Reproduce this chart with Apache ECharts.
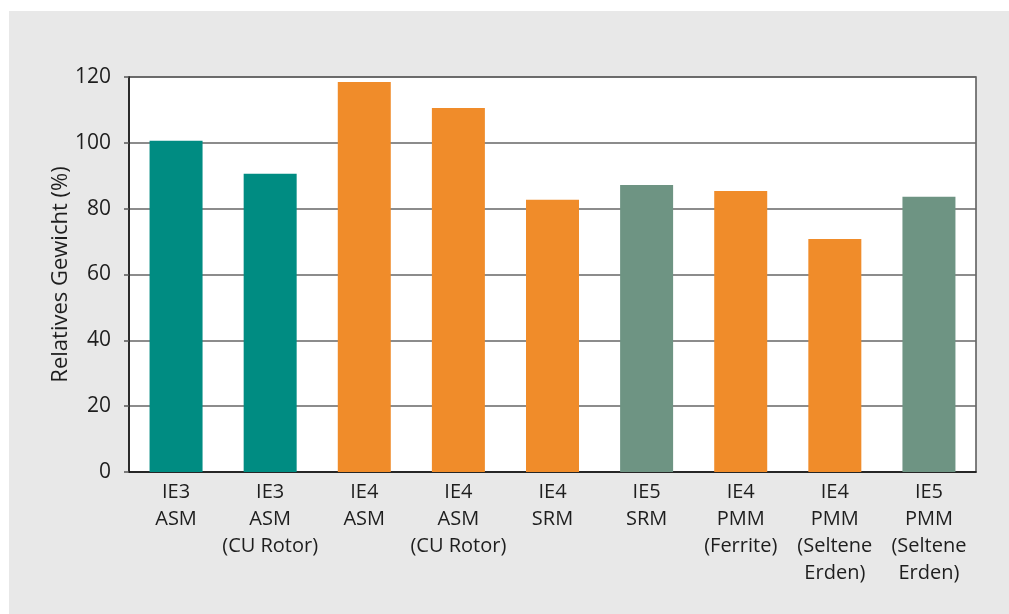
<!DOCTYPE html>
<html>
<head>
<meta charset="utf-8">
<script src="https://cdn.jsdelivr.net/npm/echarts@6/dist/echarts.min.js"></script>
<style>
  html, body { margin: 0; padding: 0; background: #fff; }
  #chart { width: 1009px; height: 614px; }
</style>
</head>
<body>
<div id="chart"></div>
<script>
  // Daten
  const categories = [
    'IE3\nASM', 'IE3\nASM\n(CU Rotor)', 'IE4\nASM', 'IE4\nASM\n(CU Rotor)',
    'IE4\nSRM', 'IE5\nSRM', 'IE4\nPMM\n(Ferrite)', 'IE4\nPMM\n(Seltene\nErden)', 'IE5\nPMM\n(Seltene\nErden)'
  ];
  const weights = [100.6, 90.6, 118.5, 110.6, 82.7, 87.2, 85.4, 70.8, 83.6];
  const yTicks = [0, 20, 40, 60, 80, 100, 120];

  // Farbe je Effizienzklasse
  const classColor = { IE3: '#008c82', IE4: '#f08c2a', IE5: '#6e9483' };
  const font = '"Open Sans", "Noto Sans", sans-serif';

  const myChart = echarts.init(document.getElementById('chart'));
  const option = {
    backgroundColor: '#fff',
    animation: false,
    graphic: [{
      type: 'rect', z: -10, silent: true,
      shape: { x: 9, y: 11, width: 1000, height: 603 },
      style: { fill: '#e8e8e8' }
    }],
    grid: {
      left: 129, right: 33, top: 77, bottom: 142,
      show: true, backgroundColor: '#fff', borderColor: '#555', borderWidth: 1.5
    },
    xAxis: {
      type: 'category',
      data: categories,
      axisLine: { lineStyle: { color: '#111', width: 1.5 } },
      axisTick: { show: false },
      axisLabel: {
        interval: 0, color: '#1e1e1e', fontFamily: font, fontSize: 20,
        lineHeight: 27, margin: 7
      }
    },
    yAxis: {
      type: 'value',
      min: yTicks[0], max: yTicks[yTicks.length - 1], interval: 20,
      name: 'Relatives Gewicht (%)',
      nameLocation: 'middle', nameRotate: 90, nameGap: 57, nameMoveOverlap: false,
      nameTextStyle: { color: '#1e1e1e', fontFamily: font, fontSize: 22 },
      axisLine: { show: true, lineStyle: { color: '#111', width: 1.5 } },
      axisTick: { show: true, length: 5, lineStyle: { color: '#555', width: 1.5 } },
      axisLabel: { color: '#1e1e1e', fontFamily: font, fontSize: 21, margin: 18 },
      splitLine: { lineStyle: { color: '#666', width: 1.5 } }
    },
    series: [{
      type: 'bar',
      barWidth: 53,
      data: weights.map((v, i) => ({
        value: v,
        itemStyle: { color: classColor[categories[i].split('\n')[0]] }
      }))
    }]
  };
  myChart.setOption(option);
</script>
</body>
</html>
